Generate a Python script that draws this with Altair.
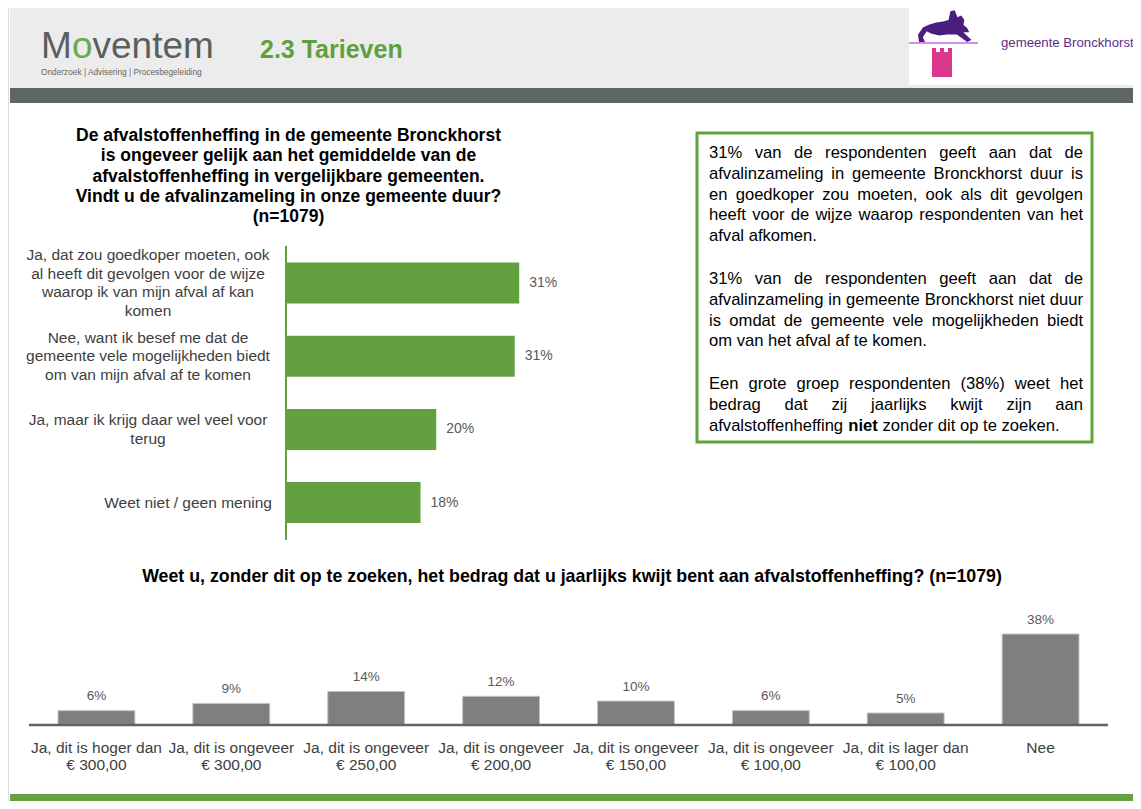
import altair as alt
import pandas as pd

# ---------------- data ----------------
q1_labels = [
    "Ja, dat zou goedkoper moeten, ook\nal heeft dit gevolgen voor de wijze\nwaarop ik van mijn afval af kan\nkomen",
    "Nee, want ik besef me dat de\ngemeente vele mogelijkheden biedt\nom van mijn afval af te komen",
    "Ja, maar ik krijg daar wel veel voor\nterug",
    "Weet niet / geen mening",
]
q1_values = [31.2, 30.6, 20.1, 18.0]

q2_labels = [
    "Ja, dit is hoger dan\n€ 300,00",
    "Ja, dit is ongeveer\n€ 300,00",
    "Ja, dit is ongeveer\n€ 250,00",
    "Ja, dit is ongeveer\n€ 200,00",
    "Ja, dit is ongeveer\n€ 150,00",
    "Ja, dit is ongeveer\n€ 100,00",
    "Ja, dit is lager dan\n€ 100,00",
    "Nee",
]
q2_values = [6, 9, 14, 12, 10, 6, 5, 38]

title_q1 = ("De afvalstoffenheffing in de gemeente Bronckhorst\n"
            "is ongeveer gelijk aan het gemiddelde van de\n"
            "afvalstoffenheffing in vergelijkbare gemeenten.\n"
            "Vindt u de afvalinzameling in onze gemeente duur?\n"
            "(n=1079)")
title_q2 = "Weet u, zonder dit op te zoeken, het bedrag dat u jaarlijks kwijt bent aan afvalstoffenheffing? (n=1079)"

# text box paragraphs; "*" marks a bold word
para1 = ["31% van de respondenten geeft aan dat de",
         "afvalinzameling in gemeente Bronckhorst duur is",
         "en goedkoper zou moeten, ook als dit gevolgen",
         "heeft voor de wijze waarop respondenten van het",
         "afval afkomen."]
para2 = ["31% van de respondenten geeft aan dat de",
         "afvalinzameling in gemeente Bronckhorst niet duur",
         "is omdat de gemeente vele mogelijkheden biedt",
         "om van het afval af te komen."]
para3 = ["Een grote groep respondenten (38%) weet het",
         "bedrag dat zij jaarlijks kwijt zijn aan",
         "afvalstoffenheffing *niet zonder dit op te zoeken."]

# ---------------- styles ----------------
GREEN = "#63a040"
GREEN_BAND = "#63a23f"
DARK = "#5f6563"
HEADER = "#ececec"
FONT = "Liberation Sans, Arial, sans-serif"

dummy = pd.DataFrame({"k": [0]})


def rect(x, x2, y, y2, **kw):
    return alt.Chart(dummy).mark_rect(**kw).encode(
        x=alt.value(x), x2=alt.value(x2), y=alt.value(y), y2=alt.value(y2))


def txt(s, x, y, **kw):
    kw.setdefault("font", FONT)
    return alt.Chart(dummy).mark_text(text=s, lineBreak="\n", **kw).encode(
        x=alt.value(x), y=alt.value(y))


def rule(x, x2, y, y2, **kw):
    return alt.Chart(dummy).mark_rule(**kw).encode(
        x=alt.value(x), x2=alt.value(x2), y=alt.value(y), y2=alt.value(y2))


# Arial / Liberation Sans advance widths (1/1000 em) used to justify the text box
REG = dict(zip("abcdefghijklmnopqrstuvwxyz",
               [556, 556, 500, 556, 556, 278, 556, 556, 222, 222, 500, 222, 833,
                556, 556, 556, 556, 333, 500, 278, 556, 500, 722, 500, 500, 500]))
REG.update({"B": 667, "E": 667, "%": 889, "(": 333, ")": 333, ".": 278, ",": 278, " ": 278})
REG.update({d: 556 for d in "0123456789"})
BOLD = dict(zip("abcdefghijklmnopqrstuvwxyz",
                [556, 611, 556, 611, 556, 333, 611, 611, 278, 278, 556, 278, 889,
                 611, 611, 611, 611, 389, 556, 333, 611, 556, 778, 556, 556, 500]))


def wwidth(word, bold, fs):
    table = BOLD if bold else REG
    return sum(table.get(c, 556) for c in word) * fs / 1000.0


def justify_rows(paras, x0, width, y_starts, lh, fs):
    rows = []
    for lines, y0 in zip(paras, y_starts):
        for i, line in enumerate(lines):
            words = [(w.lstrip("*"), w.startswith("*")) for w in line.split(" ")]
            widths = [wwidth(w, b, fs) for w, b in words]
            last = i == len(lines) - 1
            if last or len(words) == 1:
                gap = REG[" "] * fs / 1000.0
            else:
                gap = (width - sum(widths)) / (len(words) - 1)
            x = x0
            for (w, b), wd in zip(words, widths):
                rows.append({"word": w, "bold": b, "px": x, "py": y0 + i * lh})
                x += wd + gap
    return pd.DataFrame(rows)


layers = []

# ---------------- slide frame ----------------
layers.append(rect(2, 1125, -3, 80, color=HEADER))
layers.append(rect(2, 1125, 80, 95, color=DARK))
layers.append(rect(901, 1125, -3, 77, color="white"))
layers.append(rect(2, 1125, 786, 793, color=GREEN_BAND))

# Moventem logo
layers.append(txt("M", 33, 50, fontSize=37, color="#58605c", align="left", baseline="alphabetic"))
layers.append(txt("o", 64, 50, fontSize=37, color="#6aa84f", align="left", baseline="alphabetic"))
layers.append(txt("ventem", 84.5, 50, fontSize=37, color="#58605c", align="left", baseline="alphabetic"))
layers.append(txt("Onderzoek | Advisering | Procesbegeleiding", 33, 65, fontSize=8.3,
                  color="#666666", align="left", baseline="middle"))
layers.append(txt("2.3 Tarieven", 252, 42, fontSize=25, fontWeight="bold", color="#5fa03c",
                  align="left", baseline="middle"))

# Bronckhorst logo
hare = ("M -1 0.25 L -0.82 -0.02 L -0.6 -0.12 L -0.33 -0.2 L -0.07 -0.24 L 0.13 -0.3 "
        "L 0.2 -0.62 L 0.36 -0.66 L 0.46 -0.4 L 0.6 -0.46 L 0.72 -0.3 L 0.68 -0.12 "
        "L 0.82 0 L 0.9 0.16 L 0.68 0.16 L 0.98 0.44 L 0.82 0.52 L 0.44 0.24 L 0.07 0.24 "
        "L -0.22 0.28 L -0.52 0.2 L -0.68 0.12 L -0.82 0.34 L -0.74 0.52 L -0.96 0.52 Z")
layers.append(alt.Chart(dummy).mark_point(shape=hare, filled=True, size=2916, color="#4b1e7e",
                                          opacity=1).encode(x=alt.value(937), y=alt.value(20)))
layers.append(rule(901, 970, 35, 35, color="#cf8ef0", strokeWidth=2))
layers.append(rect(924, 944, 44, 69, color="#d9368c"))
for mx in (924, 932, 940):
    layers.append(rect(mx, mx + 4, 40, 45, color="#d9368c"))
layers.append(txt("gemeente Bronckhorst", 993, 35, fontSize=13.2, color="#5c2d8c",
                  align="left", baseline="middle"))

# ---------------- chart 1: horizontal bars ----------------
df1 = pd.DataFrame({"label": q1_labels, "value": q1_values})
y1 = alt.Scale(domain=q1_labels, range=[238.4, 531.2], paddingInner=0.44, paddingOuter=0.22)
x1 = alt.Scale(domain=[0, 40], range=[278, 577], nice=False, zero=True)

layers.append(txt(title_q1, 280.5, 128, fontSize=17.5, fontWeight="bold", color="black",
                  align="center", baseline="middle", lineHeight=20.3))

base1 = alt.Chart(df1)
layers.append(base1.mark_bar(color=GREEN).encode(
    x=alt.X("value:Q", scale=x1, axis=None),
    y=alt.Y("label:N", scale=y1, axis=None)))
layers.append(base1.transform_calculate(lbl="format(datum.value, '.0f') + '%'").mark_text(
    align="left", baseline="middle", dx=10, fontSize=14, font=FONT, color="#595959").encode(
    x=alt.X("value:Q", scale=x1, axis=None),
    y=alt.Y("label:N", scale=y1, axis=None),
    text="lbl:N"))
LH1 = 18.5
for n in (2, 3, 4):
    layers.append(base1.transform_filter(
        f"length(split(datum.label, '\\n')) == {n}").mark_text(
        align="center", baseline="middle", lineBreak="\n", lineHeight=LH1, fontSize=15.5,
        dy=-(n - 1) * LH1 / 2, font=FONT, color="#404040").encode(
        x=alt.value(140),
        y=alt.Y("label:N", scale=y1, axis=None),
        text="label:N"))
layers.append(base1.transform_filter("indexof(datum.label, '\\n') < 0").mark_text(
    align="right", baseline="middle", fontSize=15.5, font=FONT, color="#404040").encode(
    x=alt.value(264),
    y=alt.Y("label:N", scale=y1, axis=None),
    text="label:N"))
layers.append(rule(278, 278, 238, 532, color=GREEN, strokeWidth=2))

# ---------------- text box (justified) ----------------
FS_BOX = 16.6
LH_BOX = 20.75
layers.append(rect(689, 1084, 125, 434, fill="white", stroke=GREEN_BAND, strokeWidth=3))
words = justify_rows([para1, para2, para3], 701, 374, [145, 271, 376], LH_BOX, FS_BOX)
for is_bold in (False, True):
    layers.append(alt.Chart(words).transform_filter(
        "datum.bold" if is_bold else "!datum.bold").mark_text(
        align="left", baseline="middle", fontSize=FS_BOX, font=FONT, color="black",
        fontWeight="bold" if is_bold else "normal").encode(
        x=alt.X("px:Q", scale=None, axis=None),
        y=alt.Y("py:Q", scale=None, axis=None),
        text="word:N"))

# ---------------- chart 2: vertical bars ----------------
df2 = pd.DataFrame({"label": q2_labels, "value": q2_values})
x2s = alt.Scale(domain=q2_labels, range=[21, 1100], paddingInner=0.43, paddingOuter=0.215)
y2s = alt.Scale(domain=[0, 38], range=[717, 626], nice=False, zero=True)

layers.append(txt(title_q2, 564, 569, fontSize=17.8, fontWeight="bold", color="black",
                  align="center", baseline="middle"))
base2 = alt.Chart(df2)
layers.append(base2.mark_bar(color="#7f7f7f", stroke="#c4c4c4", strokeWidth=1).encode(
    x=alt.X("label:N", scale=x2s, axis=None, sort=None),
    y=alt.Y("value:Q", scale=y2s, axis=None)))
layers.append(base2.transform_calculate(lbl="format(datum.value, '.0f') + '%'").mark_text(
    align="center", baseline="middle", dy=-14.5, fontSize=13.5, font=FONT, color="#595959").encode(
    x=alt.X("label:N", scale=x2s, axis=None, sort=None),
    y=alt.Y("value:Q", scale=y2s, axis=None),
    text="lbl:N"))
layers.append(base2.mark_text(
    align="center", baseline="top", lineBreak="\n", lineHeight=17.7, fontSize=15.5,
    font=FONT, color="#404040").encode(
    x=alt.X("label:N", scale=x2s, axis=None, sort=None),
    y=alt.value(732.5),
    text="label:N"))
layers.append(rule(21, 1100, 717, 717, color="#5f6462", strokeWidth=2.5))

chart = alt.layer(*layers).resolve_scale(
    x="independent", y="independent"
).properties(
    width=1125, height=793,
    autosize=alt.AutoSizeParams(type="none"),
    padding=0,
).configure_view(strokeWidth=0).configure(background="white")

chart.save("out.html", embed_options={"renderer": "svg", "actions": False})
